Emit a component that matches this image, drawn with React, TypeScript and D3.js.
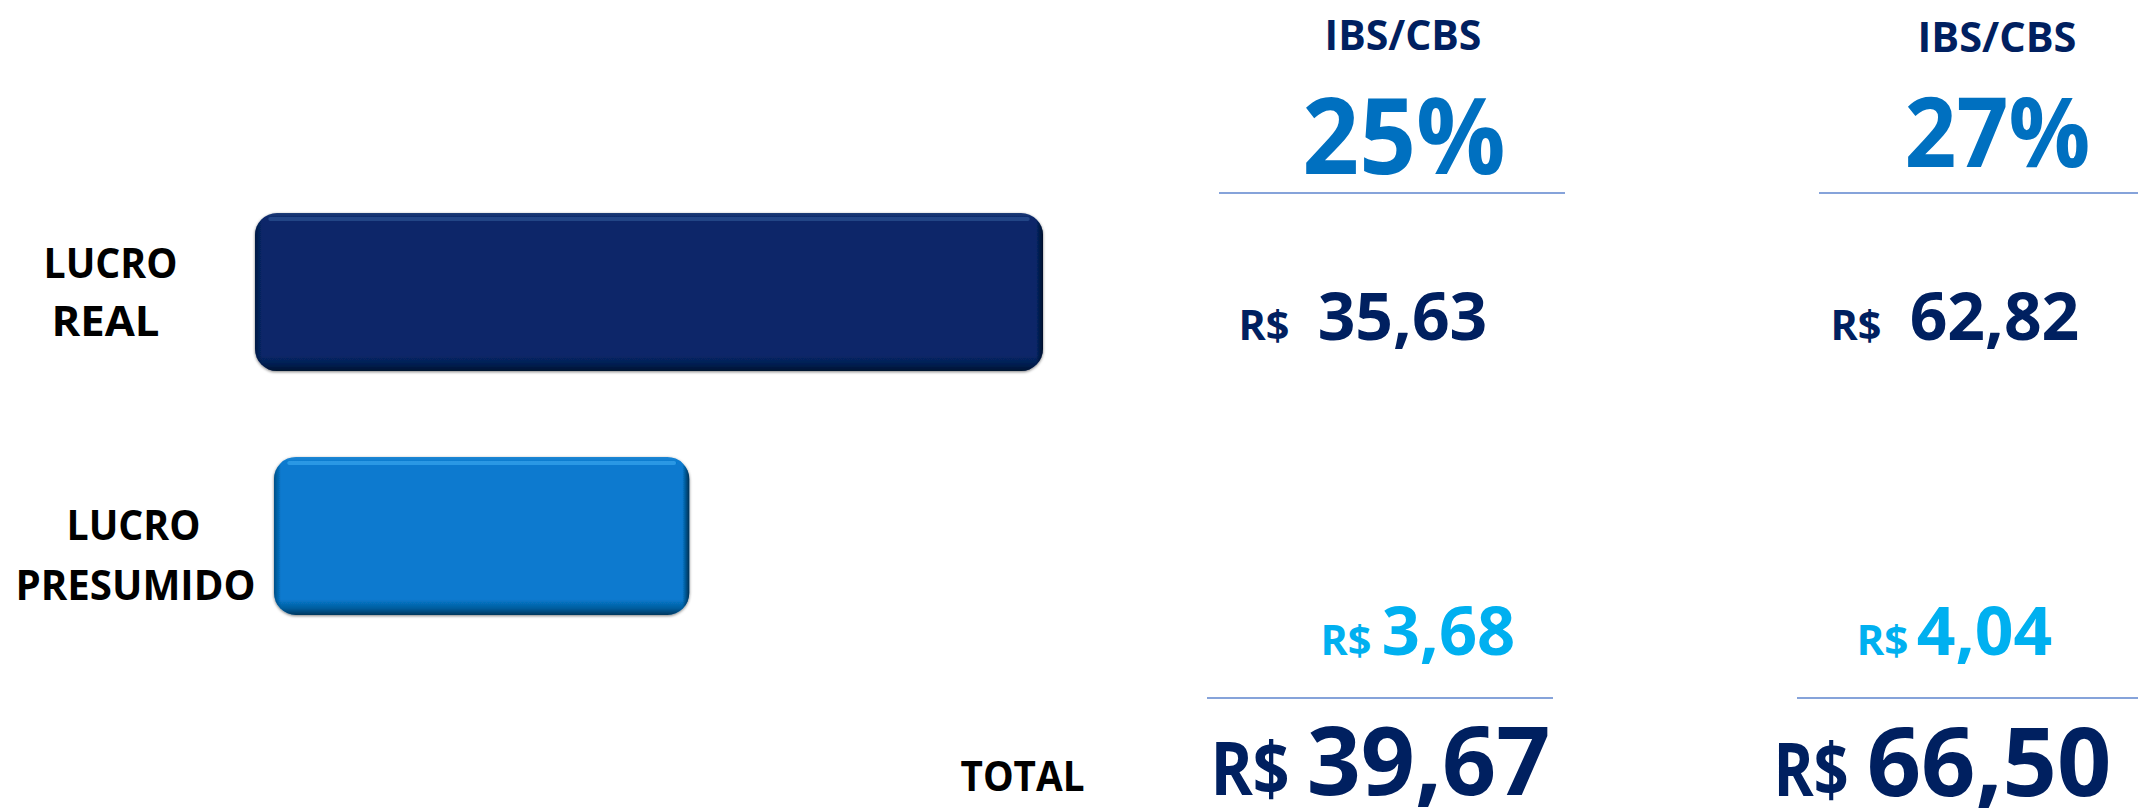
import React from "react";
import * as d3 from "d3";

// ---------- data ----------
const categories = ["LUCRO REAL", "LUCRO PRESUMIDO"];
const barLengths = [100, 52.7]; // relative bar lengths as drawn
const scenarioTitles = ["IBS/CBS", "IBS/CBS"];
const rates = [25, 27];
const lucroRealTax = [35.63, 62.82];
const lucroPresumidoTax = [3.68, 4.04];
const totals = [39.67, 66.5];
const currencySymbol = "R$";
const totalLabel = "TOTAL";

// ---------- layout ----------
const W = 2138;
const H = 808;
const FONT = "'Open Sans', 'Noto Sans', sans-serif";
const NAVY = "#002060";
const BLUE = "#0070C0";
const CYAN = "#00B0F0";
const RULE = "#86A3DA";

const barColors = ["#072769", "#077ACF"];
const barHighlights = ["#3A5C9E", "#4AB0F5"];
const barStart = [255, 274];
const labelLines = [
  [{ cx: 110.5, dy: -14 }, { cx: 105.5, dy: 44 }],
  [{ cx: 133.5, dy: 4.5 }, { cx: 135.5, dy: 64.5 }],
];

type Box = { x0: number; x1: number; y: number; fs: number };
const colLayout: {
  title: Box; rate: Box; rule1: [number, number, number];
  rs1: Box; v1: Box; rs2: Box; v2: Box; rule2: [number, number, number];
  rs3: Box; v3: Box;
}[] = [
  {
    title: { x0: 1326, x1: 1480, y: 50, fs: 41 },
    rate: { x0: 1306, x1: 1502, y: 174, fs: 106 },
    rule1: [1219, 1565, 193],
    rs1: { x0: 1240, x1: 1288, y: 340, fs: 42 },
    v1: { x0: 1320, x1: 1485, y: 340, fs: 67 },
    rs2: { x0: 1322, x1: 1370, y: 655, fs: 42 },
    v2: { x0: 1384, x1: 1513, y: 655, fs: 66 },
    rule2: [1207, 1553, 698],
    rs3: { x0: 1213, x1: 1287, y: 795, fs: 73 },
    v3: { x0: 1310, x1: 1547, y: 795, fs: 95 },
  },
  {
    title: { x0: 1919, x1: 2075, y: 52, fs: 41 },
    rate: { x0: 1908, x1: 2087, y: 167, fs: 97 },
    rule1: [1819, 2138, 193],
    rs1: { x0: 1832, x1: 1880, y: 340, fs: 42 },
    v1: { x0: 1912, x1: 2077, y: 340, fs: 67 },
    rs2: { x0: 1858, x1: 1907, y: 655, fs: 42 },
    v2: { x0: 1919, x1: 2050, y: 655, fs: 66 },
    rule2: [1797, 2138, 698],
    rs3: { x0: 1776, x1: 1846, y: 796, fs: 73 },
    v3: { x0: 1870, x1: 2108, y: 796, fs: 95 },
  },
];
const totalBox: Box = { x0: 962, x1: 1083, y: 791, fs: 42 };

const locale = d3.formatLocale({
  decimal: ",",
  thousands: ".",
  grouping: [3],
  currency: ["R$ ", ""],
});
const fmt = locale.format(",.2f");

function T({ b, text, fill }: { b: Box; text: string; fill: string }) {
  const cx = (b.x0 + b.x1) / 2;
  const len = b.x1 - b.x0 + 0.07 * b.fs;
  return (
    <text
      x={cx}
      y={b.y}
      textAnchor="middle"
      fontFamily={FONT}
      fontWeight={700}
      fontSize={b.fs}
      fill={fill}
      textLength={len}
      lengthAdjust="spacingAndGlyphs"
    >
      {text}
    </text>
  );
}

export default function App() {
  const yScale = d3
    .scaleBand<string>()
    .domain(categories)
    .range([213, 615])
    .paddingInner(0.352)
    .paddingOuter(0);
  const xScale = d3.scaleLinear().domain([0, 100]).range([0, 788]);
  const bw = yScale.bandwidth();
  const r = 22;

  return (
    <svg
      width={W}
      height={H}
      viewBox={`0 0 ${W} ${H}`}
      style={{ position: "absolute", left: 0, top: 0, background: "#fff" }}
    >
      <defs>
        <linearGradient id="bevV" x1="0" y1="0" x2="0" y2="1">
          <stop offset="0" stopColor="#fff" stopOpacity={0.1} />
          <stop offset="0.03" stopColor="#fff" stopOpacity={0.0} />
          <stop offset="0.9" stopColor="#000" stopOpacity={0} />
          <stop offset="0.96" stopColor="#000" stopOpacity={0.25} />
          <stop offset="1" stopColor="#000" stopOpacity={0.55} />
        </linearGradient>
        {categories.map((c, i) => {
          const w = xScale(barLengths[i]);
          const e = 7 / w;
          return (
            <linearGradient key={c} id={`bevH${i}`} x1="0" y1="0" x2="1" y2="0">
              <stop offset="0" stopColor="#000" stopOpacity={0.35} />
              <stop offset={e} stopColor="#000" stopOpacity={0} />
              <stop offset={1 - e} stopColor="#000" stopOpacity={0} />
              <stop offset="1" stopColor="#000" stopOpacity={0.6} />
            </linearGradient>
          );
        })}
        <filter id="shadow" x="-5%" y="-10%" width="110%" height="125%">
          <feGaussianBlur in="SourceAlpha" stdDeviation="1.5" />
          <feOffset dx="0" dy="1" result="b" />
          <feComponentTransfer>
            <feFuncA type="linear" slope="0.5" />
          </feComponentTransfer>
          <feMerge>
            <feMergeNode />
            <feMergeNode in="SourceGraphic" />
          </feMerge>
        </filter>
      </defs>

      {/* bars */}
      {categories.map((c, i) => {
        const x = barStart[i];
        const y = yScale(c)!;
        const w = xScale(barLengths[i]);
        return (
          <g key={c} filter="url(#shadow)">
            <rect x={x} y={y} width={w} height={bw} rx={r} ry={r} fill={barColors[i]} />
            <rect
              x={x + r * 0.6}
              y={y + 4}
              width={w - r * 1.2}
              height={4}
              rx={2}
              fill={barHighlights[i]}
              opacity={0.55}
            />
            <rect x={x} y={y} width={w} height={bw} rx={r} ry={r} fill="url(#bevV)" />
            <rect x={x} y={y} width={w} height={bw} rx={r} ry={r} fill={`url(#bevH${i})`} />
          </g>
        );
      })}

      {/* category labels */}
      {categories.map((c, i) => {
        const cy = yScale(c)! + bw / 2;
        const words = c.split(" ");
        return words.map((wd, j) => (
          <text
            key={c + j}
            x={labelLines[i][j].cx}
            y={cy + labelLines[i][j].dy}
            textAnchor="middle"
            fontFamily={FONT}
            fontWeight={700}
            fontSize={42}
            fill="#000"
            textLength={(wd === "LUCRO" ? 131 : wd === "REAL" ? 105 : 237) + 3}
            lengthAdjust="spacingAndGlyphs"
          >
            {wd}
          </text>
        ));
      })}

      {/* scenario columns */}
      {colLayout.map((L, k) => (
        <g key={k}>
          <T b={L.title} text={scenarioTitles[k]} fill={NAVY} />
          <T b={L.rate} text={`${rates[k]}%`} fill={BLUE} />
          <line x1={L.rule1[0]} x2={L.rule1[1]} y1={L.rule1[2]} y2={L.rule1[2]} stroke={RULE} strokeWidth={2} />
          <T b={L.rs1} text={currencySymbol} fill={NAVY} />
          <T b={L.v1} text={fmt(lucroRealTax[k])} fill={NAVY} />
          <T b={L.rs2} text={currencySymbol} fill={CYAN} />
          <T b={L.v2} text={fmt(lucroPresumidoTax[k])} fill={CYAN} />
          <line x1={L.rule2[0]} x2={L.rule2[1]} y1={L.rule2[2]} y2={L.rule2[2]} stroke={RULE} strokeWidth={2} />
          <T b={L.rs3} text={currencySymbol} fill={NAVY} />
          <T b={L.v3} text={fmt(totals[k])} fill={NAVY} />
        </g>
      ))}

      <T b={totalBox} text={totalLabel} fill="#000" />
    </svg>
  );
}
